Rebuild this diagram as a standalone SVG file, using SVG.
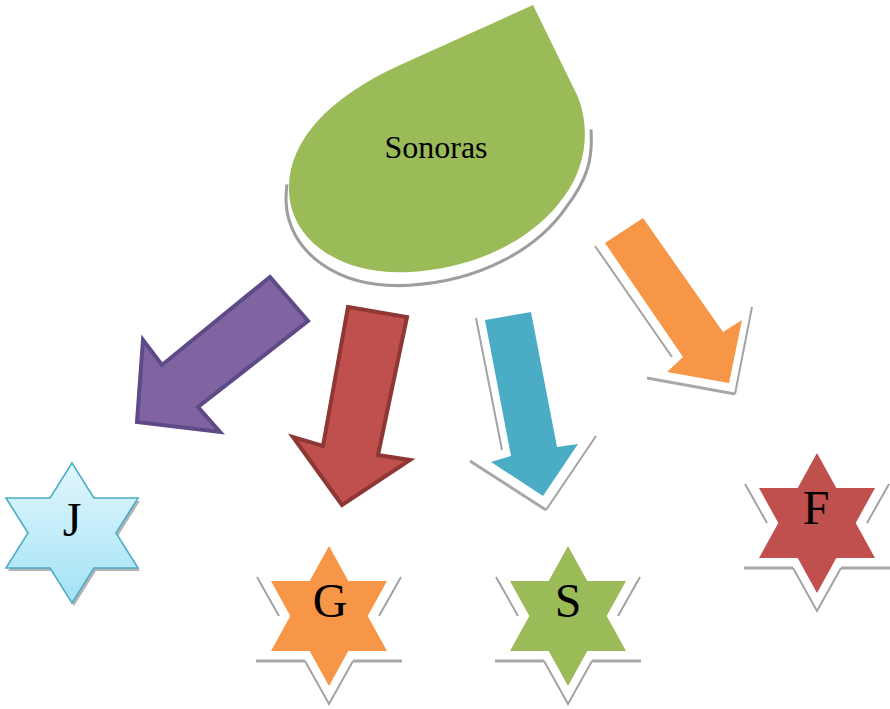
<svg xmlns="http://www.w3.org/2000/svg" width="890" height="709" viewBox="0 0 890 709">
<defs>
<style>
.lbl{font-family:"Liberation Serif","Times New Roman",serif;fill:#000;text-anchor:middle}
.sh{fill:none;stroke:#a3a3a3;stroke-width:2;stroke-linejoin:miter}
.shb{fill:none;stroke:#a8a8a8;stroke-width:3}
</style>
<linearGradient id="gJ" x1="0" y1="0" x2="0" y2="1">
<stop offset="0" stop-color="#e2f7fd"/>
<stop offset="1" stop-color="#a3e2f5"/>
</linearGradient>
<path id="star" d="M0,-70 L19.3,-35 L58,-35 L38.7,0 L58,35 L19.3,35 L0,70 L-19.3,35 L-58,35 L-38.7,0 L-58,-35 L-19.3,-35 Z"/>
<g id="starShadow">
<path class="sh" d="M-72,-39 L-50,0 M72,-39 L50,0 M-24,45 L0,88 L24,45"/>
<path class="shb" d="M-73,45 L-24,45 M24,45 L73,45"/>
</g>
</defs>
<rect width="890" height="709" fill="#fff"/>

<g id="connectors">
<g id="arrow-J">
<polygon points="137,422 143,340 162,365 270,277 308,321 198,407 220,432" fill="#8064a2" stroke="#5e4a86" stroke-width="4"/>
</g>
<g id="arrow-G">
<polygon points="348,307 407,317 378,455 410,460 342,505 293,437 323,446" fill="#c0504d" stroke="#8e3734" stroke-width="4"/>
</g>
<g id="arrow-S">
<path class="sh" d="M476,318 L502,450 M546,510 L596,436"/>
<path class="shb" d="M470,461 L546,510"/>
<polygon points="485,320 531,312 557,447 578,444 543,496 491,462 511,456" fill="#4bacc6"/>
</g>
<g id="arrow-F">
<path class="sh" d="M595,246 L672,357 M735,394 L752,307"/>
<path class="shb" d="M647,378 L735,394"/>
<polygon points="605,243 643,218 723,332 742,320 729,383 667,372 683,357" fill="#f79646"/>
</g>
</g>

<g id="node-sonoras">
<path d="M290,175 C289,182 289,186 289,190 C290,240 340,276 410,272 C480,268 535,237 563,198 C585,170 590,150 588,122" fill="none" stroke="#9e9e9e" stroke-width="3" transform="matrix(1.02 0 0 1.04 -8.8 2.4)"/>
<path d="M533,5 L577,95 C590,125 588,165 563,198 C535,237 480,268 410,272 C340,276 290,240 289,190 C288,140 330,97 400,65 Z" fill="#9bbb59"/>
<text class="lbl" x="436" y="158" font-size="32">Sonoras</text>
</g>

<g id="node-J">
<use href="#star" transform="translate(74,536) scale(1.138,1)" fill="#9a9a9a" opacity="0.75"/>
<use href="#star" transform="translate(72,533) scale(1.138,1)" fill="url(#gJ)" stroke="#4bacc6" stroke-width="1.5"/>
<text class="lbl" x="72" y="536" font-size="48">J</text>
</g>

<g id="node-G">
<use href="#starShadow" transform="translate(329,616)"/>
<use href="#star" transform="translate(329,616)" fill="#f79646"/>
<text class="lbl" x="330" y="617" font-size="48">G</text>
</g>

<g id="node-S">
<use href="#starShadow" transform="translate(568,616)"/>
<use href="#star" transform="translate(568,616)" fill="#9bbb59"/>
<text class="lbl" x="568" y="617" font-size="48">S</text>
</g>

<g id="node-F">
<use href="#starShadow" transform="translate(817,523)"/>
<use href="#star" transform="translate(817,523)" fill="#c0504d"/>
<text class="lbl" x="816" y="524" font-size="48">F</text>
</g>
</svg>
